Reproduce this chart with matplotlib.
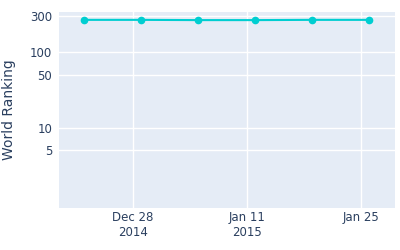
import matplotlib
matplotlib.use("Agg")
import matplotlib.pyplot as plt
import matplotlib.dates as mdates
import pandas as pd

# weekly ranking points
dates = ["2014-12-22", "2014-12-29", "2015-01-05", "2015-01-12", "2015-01-19", "2015-01-26"]
ranking = [266, 266, 264, 264, 266, 266]

y_ticks = [5, 10, 50, 100, 300]
x_ticks = ["2014-12-28", "2015-01-11", "2015-01-25"]
x_tick_labels = ["Dec 28\n2014", "Jan 11\n2015", "Jan 25"]

text_color = "#2a3f5f"
line_color = "#00CED1"

dates = pd.to_datetime(dates)
tick_dates = pd.to_datetime(x_ticks)

fig = plt.figure(figsize=(4, 2.5), dpi=100)
ax = fig.add_axes([0.1475, 0.168, 0.84, 0.784])
ax.set_facecolor("#E5ECF6")

ax.plot(dates, ranking, color=line_color, linewidth=1.5, marker="o", markersize=4.5, zorder=3)

ax.set_yscale("log")
ax.set_ylim(0.86, 338)
ax.set_yticks(y_ticks)
ax.set_yticklabels([str(t) for t in y_ticks])
ax.yaxis.set_minor_locator(matplotlib.ticker.NullLocator())

ax.set_xlim(pd.Timestamp("2014-12-18 22:00"), pd.Timestamp("2015-01-29 05:00"))
ax.set_xticks(tick_dates)
ax.set_xticklabels(x_tick_labels)

ax.grid(True, color="white", linewidth=1)
ax.set_axisbelow(True)
for s in ax.spines.values():
    s.set_visible(False)
ax.tick_params(length=0, colors=text_color, labelsize=8.5, pad=5)
ax.tick_params(axis="x", pad=2)

ax.set_ylabel("World Ranking", color=text_color, fontsize=10, labelpad=10)

fig.savefig("out.png", dpi=100)
